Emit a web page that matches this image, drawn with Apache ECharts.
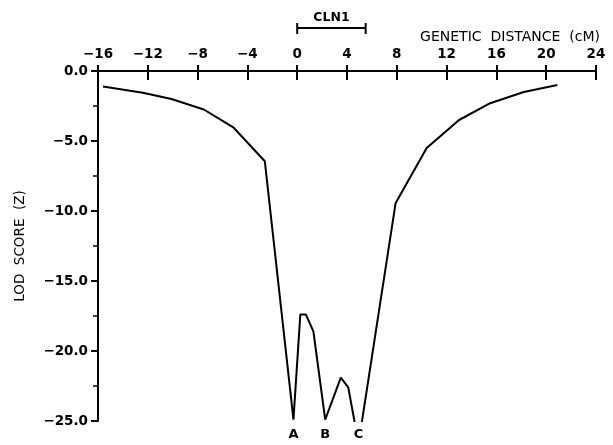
<!DOCTYPE html>
<html>
<head>
<meta charset="utf-8">
<script src="https://cdn.jsdelivr.net/npm/echarts@6/dist/echarts.min.js"></script>
<style>
  html, body { margin: 0; padding: 0; background: #fff; }
  #chart { width: 613px; height: 445px; }
</style>
</head>
<body>
<div id="chart"></div>
<script>
// genetic distance (cM) and LOD score
var distance = [-15.6, -12.4, -10.1, -7.5, -5.1, -2.6, -0.3, 0.25, 0.7, 1.3, 2.25, 3.5, 4.1, 4.93, 7.9, 10.4, 13.0, 15.5, 18.2, 20.9];
var lodScore = [-1.1, -1.55, -2.0, -2.75, -4.05, -6.45, -24.9, -17.4, -17.4, -18.6, -24.9, -21.9, -22.6, -26.6, -9.45, -5.5, -3.5, -2.3, -1.5, -1.0];

var markerLabels = ['A', 'B', 'C'];
var markerX = [-0.3, 2.25, 4.93];

var geneName = 'CLN1';
var geneSpan = [0, 5.5];

var FONT = '"DejaVu Sans", sans-serif';

function minus(s) { return String(s).replace('-', '\u2212'); }

var chart = echarts.init(document.getElementById('chart'));

var option = {
    backgroundColor: '#fff',
    animation: false,
    title: {
        text: 'GENETIC  DISTANCE  (cM)',
        right: 8,
        top: 25,
        textStyle: { fontFamily: FONT, fontSize: 14, fontWeight: 'normal', color: '#000' }
    },
    grid: { left: 98, top: 71, right: 17, bottom: 24 },
    xAxis: [{
        type: 'value',
        position: 'top',
        min: -16, max: 24, interval: 4,
        axisLine: { onZero: false, lineStyle: { color: '#000', width: 2 } },
        axisTick: { inside: false, length: 6, lineStyle: { color: '#000', width: 2 } },
        axisLabel: {
            margin: 10, color: '#000', fontFamily: FONT, fontSize: 13.5, fontWeight: 'bold',
            formatter: function (v) { return minus(v); }
        },
        splitLine: { show: false }
    }, {
        type: 'value',
        position: 'top',
        offset: 0,
        min: -16, max: 24, interval: 4,
        axisLine: { show: false, onZero: false },
        axisTick: { inside: true, length: 9, lineStyle: { color: '#000', width: 2 } },
        axisLabel: { show: false },
        splitLine: { show: false }
    }],
    yAxis: {
        type: 'value',
        min: -25, max: 0, interval: 5,
        name: 'LOD  SCORE  (Z)',
        nameLocation: 'middle',
        nameGap: 71,
        nameTextStyle: { fontFamily: FONT, fontSize: 13.5, color: '#000' },
        axisLine: { show: true, onZero: false, lineStyle: { color: '#000', width: 2 } },
        axisTick: { show: true, inside: false, length: 7, lineStyle: { color: '#000', width: 2 } },
        minorTick: { show: true, splitNumber: 2, length: 5, lineStyle: { color: '#000', width: 1.5 } },
        axisLabel: {
            margin: 10, color: '#000', fontFamily: FONT, fontSize: 13.5, fontWeight: 'bold',
            formatter: function (v) { return minus(v.toFixed(1)); }
        },
        splitLine: { show: false }
    },
    series: [{
        type: 'line',
        data: distance.map(function (d, i) { return [d, lodScore[i]]; }),
        showSymbol: false,
        symbol: 'none',
        clip: true,
        lineStyle: { color: '#000', width: 2 }
    }, {
        type: 'custom',
        clip: false,
        data: [geneSpan],
        encode: { x: [0, 1] },
        renderItem: function (params, api) {
            var a = api.coord([api.value(0), 0]);
            var b = api.coord([api.value(1), 0]);
            var y = a[1] - 43;
            var st = { stroke: '#000', lineWidth: 2 };
            return {
                type: 'group',
                children: [
                    { type: 'line', shape: { x1: a[0], y1: y, x2: b[0], y2: y }, style: st },
                    { type: 'line', shape: { x1: a[0], y1: y - 5, x2: a[0], y2: y + 6 }, style: st },
                    { type: 'line', shape: { x1: b[0], y1: y - 5, x2: b[0], y2: y + 6 }, style: st },
                    { type: 'text', style: {
                        text: geneName, x: (a[0] + b[0]) / 2, y: y - 10,
                        align: 'center', verticalAlign: 'middle',
                        font: 'bold 12.5px ' + FONT, fill: '#000'
                    } }
                ]
            };
        }
    }, {
        type: 'custom',
        clip: false,
        data: markerX.map(function (x) { return [x]; }),
        encode: { x: 0 },
        renderItem: function (params, api) {
            var p = api.coord([api.value(0), -25]);
            return {
                type: 'text',
                style: {
                    text: markerLabels[params.dataIndex], x: p[0], y: p[1] + 14,
                    align: 'center', verticalAlign: 'middle',
                    font: 'bold 13px ' + FONT, fill: '#000'
                }
            };
        }
    }]
};

chart.setOption(option);
</script>
</body>
</html>
